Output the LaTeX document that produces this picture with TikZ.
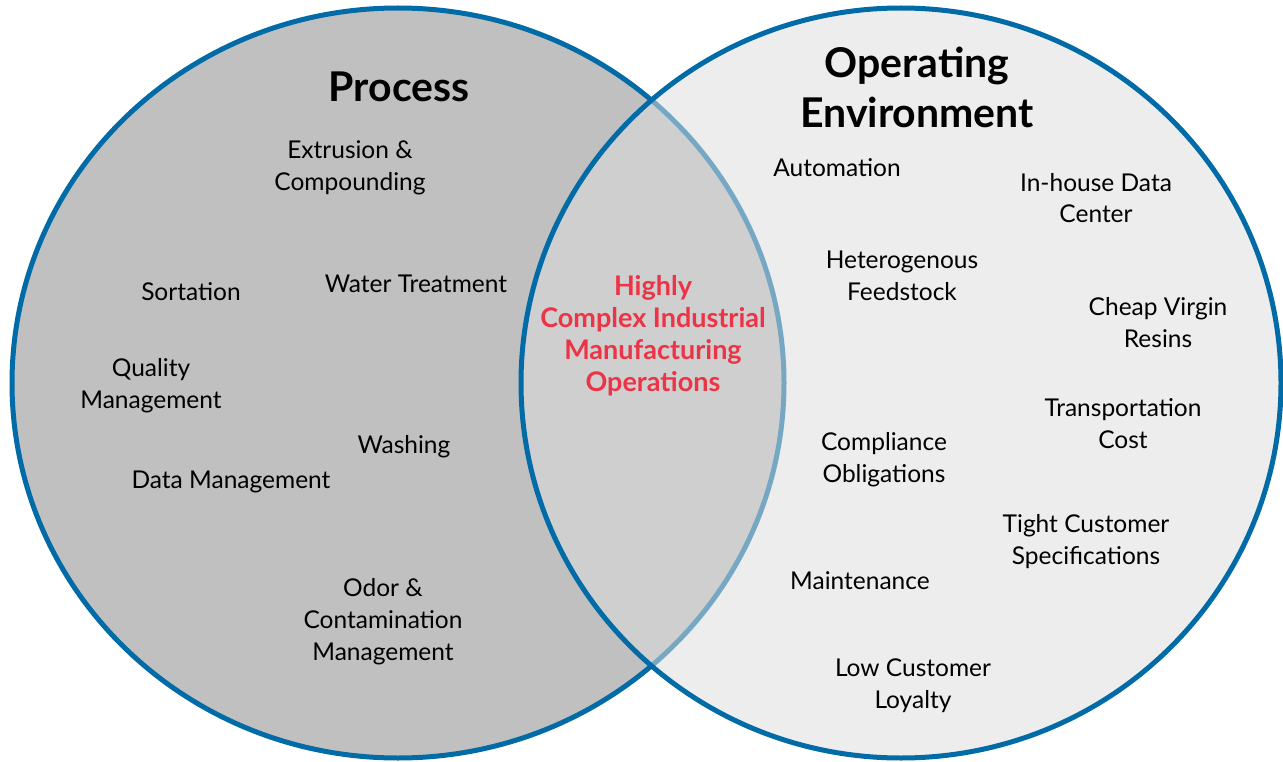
\documentclass[tikz,border=0pt]{standalone}
\usepackage{fontspec}
\setmainfont{Lato}
\definecolor{ringblue}{RGB}{0,107,166}
\definecolor{leftfill}{RGB}{192,192,192}
\definecolor{rightfill}{RGB}{221,221,221}
\definecolor{hotred}{RGB}{236,52,70}
\begin{document}
\begin{tikzpicture}[x=1pt,y=-1pt,
  ring/.style={draw=ringblue,line width=5pt},
  lbl/.style={inner sep=0pt,align=center,anchor=base,font=\fontsize{24.5}{32}\selectfont},
  ttl/.style={inner sep=0pt,align=center,anchor=base,font=\fontsize{41}{50}\selectfont\bfseries},
  core/.style={inner sep=0pt,align=center,anchor=base,text=hotred,font=\fontsize{27}{32}\selectfont\bfseries}]
\useasboundingbox (0,0) rectangle (1283,762);
% circles
\path[ring,fill=leftfill] (398,383) ellipse [x radius=386,y radius=375];
\path[fill=rightfill,fill opacity=0.54] (901,383) ellipse [x radius=380,y radius=375];
\path[draw=ringblue,line width=5pt] (901,383) ellipse [x radius=380,y radius=375];
% titles
\node[ttl] (process) at (399,102) {Process};
\node[ttl] (openv) at (917,128) {Operating\\Environment};
% center
\node[core] (center) at (653,391) {Highly\\Complex Industrial\\Manufacturing\\Operations};
% left items
\node[lbl] (extr) at (350,191) {Extrusion \&\\Compounding};
\node[lbl] (sort) at (191,301) {Sortation};
\node[lbl] (water) at (416,292) {Water Treatment};
\node[lbl] (qual) at (151,408) {Quality\\Management};
\node[lbl] (wash) at (404,453) {Washing};
\node[lbl] (datam) at (231,488) {Data Management};
\node[lbl] (odor) at (383,660) {Odor \&\\Contamination\\Management};
% right items
\node[lbl] (auto) at (837,177) {Automation};
\node[lbl] (inhouse) at (1096,223) {In-house Data\\Center};
\node[lbl] (hetero) at (902,300) {Heterogenous\\Feedstock};
\node[lbl] (cheap) at (1158,347) {Cheap Virgin\\Resins};
\node[lbl] (trans) at (1123,448) {Transportation\\Cost};
\node[lbl] (compl) at (884,482) {Compliance\\Obligations};
\node[lbl] (tight) at (1086,564) {Tight Customer\\Specifications};
\node[lbl] (maint) at (860,589) {Maintenance};
\node[lbl] (low) at (913,708) {Low Customer\\Loyalty};
\end{tikzpicture}
\end{document}
